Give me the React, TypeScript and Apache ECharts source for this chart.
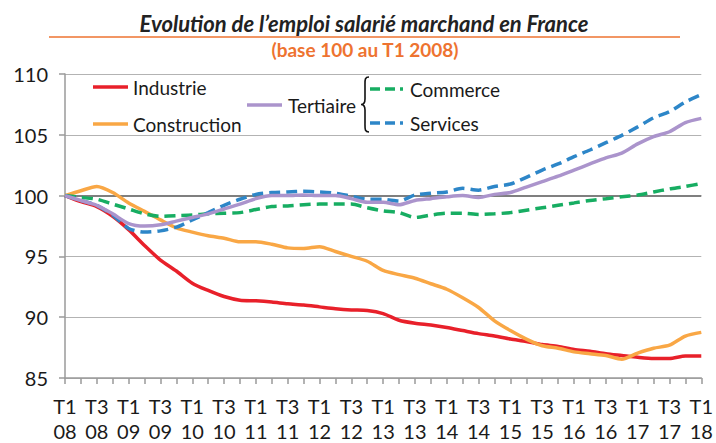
import React, { useEffect, useRef } from "react";
import * as echarts from "echarts";

const years = ["08", "09", "10", "11", "12", "13", "14", "15", "16", "17", "18"];
const quarters: string[] = [];
years.forEach((y, yi) => {
  const n = yi === years.length - 1 ? 1 : 4;
  for (let q = 1; q <= n; q++) quarters.push(`T${q} ${y}`);
});

const industrie = [
  100, 99.5, 99.1, 98.3, 97.2, 95.9, 94.7, 93.8, 92.8, 92.2,
  91.7, 91.4, 91.35, 91.25, 91.1, 91.0, 90.85, 90.7, 90.6, 90.55,
  90.3, 89.75, 89.5, 89.35, 89.15, 88.9, 88.65, 88.45, 88.2, 88.0,
  87.75, 87.6, 87.35, 87.2, 87.0, 86.85, 86.7, 86.6, 86.6, 86.8, 86.8,
];
const construction = [
  100, 100.4, 100.75, 100.25, 99.4, 98.7, 98.0, 97.35, 97.0, 96.7,
  96.5, 96.2, 96.2, 96.0, 95.7, 95.65, 95.8, 95.4, 95.0, 94.6,
  93.85, 93.5, 93.2, 92.75, 92.3, 91.6, 90.8, 89.7, 88.9, 88.2,
  87.65, 87.45, 87.15, 87.0, 86.85, 86.55, 87.05, 87.45, 87.7, 88.45, 88.75,
];
const tertiaire = [
  100, 99.6, 99.2, 98.5, 97.7, 97.5, 97.6, 97.9, 98.2, 98.5,
  98.9, 99.3, 99.75, 100.0, 100.0, 100.05, 100.0, 100.0, 99.75, 99.45,
  99.45, 99.25, 99.6, 99.75, 99.9, 100.0, 99.85, 100.1, 100.25, 100.7,
  101.15, 101.6, 102.1, 102.6, 103.1, 103.5, 104.25, 104.85, 105.25, 106.0, 106.35,
];
const commerce = [
  100, 99.85, 99.7, 99.3, 98.9, 98.5, 98.3, 98.35, 98.4, 98.5,
  98.55, 98.6, 98.85, 99.1, 99.15, 99.25, 99.3, 99.3, 99.3, 99.0,
  98.75, 98.6, 98.2, 98.4, 98.55, 98.55, 98.45, 98.5, 98.6, 98.8,
  99.0, 99.2, 99.4, 99.6, 99.75, 99.9, 100.05, 100.3, 100.55, 100.75, 101.0,
];
const services = [
  100, 99.6, 99.2, 98.4, 97.3, 97.0, 97.1, 97.4, 98.0, 98.6,
  99.2, 99.7, 100.1, 100.25, 100.3, 100.35, 100.3, 100.2, 99.95, 99.7,
  99.7, 99.55, 100.05, 100.2, 100.3, 100.6, 100.45, 100.75, 100.95, 101.5,
  102.1, 102.6, 103.2, 103.75, 104.35, 104.95, 105.65, 106.4, 106.9, 107.7, 108.3,
];

const FONT = "Lato, 'Noto Sans', sans-serif";
const C_IND = "#E8202A";
const C_CON = "#F9A745";
const C_TER = "#AB94CC";
const C_COM = "#17AD62";
const C_SER = "#2D86C8";

const braceD =
  "M369,77 C364.5,77 365,80 365,86 L365,99 C365,102.5 364,104.5 361,104.5 C364,104.5 365,106.5 365,110 L365,123 C365,129 364.5,132 369,132";

let registered = false;

export default function App() {
  const ref = useRef<HTMLDivElement>(null);
  useEffect(() => {
    if (!ref.current) return;
    if (!registered) {
      echarts.graphic.registerShape("brace", echarts.graphic.extendPath(braceD, {}) as any);
      registered = true;
    }
    const chart = echarts.init(ref.current, null, { renderer: "svg" });
    const lineSeries = (name: string, data: number[], color: string, dashed: boolean, z: number) => ({
      name,
      type: "line",
      data,
      smooth: 0.25,
      symbol: "none",
      z,
      lineStyle: { color, width: 3.5, type: dashed ? [11, 6] : "solid", cap: "butt" },
    });
    const legendText = (text: string, x: number, y: number) => ({
      type: "text",
      x,
      y,
      style: { text, fill: "#1a1a1a", font: `19px ${FONT}`, textVerticalAlign: "middle", textAlign: "left" },
    });
    const legendLine = (x1: number, x2: number, y: number, color: string, dashed: boolean) => ({
      type: "line",
      shape: { x1, y1: y, x2, y2: y },
      style: { stroke: color, lineWidth: 3.5, lineDash: dashed ? [10, 5] : null },
    });
    chart.setOption({
      animation: false,
      backgroundColor: "#ffffff",
      grid: { left: 65, right: 13, top: 74, bottom: 62, containLabel: false },
      xAxis: {
        type: "category",
        data: quarters,
        boundaryGap: false,
        axisLine: { lineStyle: { color: "#9a9a9a", width: 1.5 } },
        axisTick: { show: true, interval: 0, length: 6, lineStyle: { color: "#9a9a9a", width: 1.5 } },
        axisLabel: {
          interval: 1,
          margin: 15,
          color: "#1a1a1a",
          fontSize: 20,
          fontFamily: FONT,
          lineHeight: 25,
          formatter: (v: string) => v.replace(" ", "\n"),
        },
        splitLine: { show: false },
      },
      yAxis: {
        type: "value",
        min: 85,
        max: 110,
        interval: 5,
        axisLine: { show: true, lineStyle: { color: "#9a9a9a", width: 1.5 } },
        axisTick: { show: true, length: 6, lineStyle: { color: "#9a9a9a", width: 1.5 } },
        axisLabel: { margin: 17, color: "#1a1a1a", fontSize: 20, fontFamily: FONT },
        splitLine: { show: true, lineStyle: { color: "#b3b3b3", width: 1.2 } },
      },
      series: [
        {
          ...lineSeries("Industrie", industrie, C_IND, false, 3),
          markLine: {
            silent: true,
            symbol: "none",
            label: { show: false },
            lineStyle: { color: "#7f7f7f", width: 2.2, type: "solid" },
            data: [{ yAxis: 100 }],
            z: 1,
          },
        },
        lineSeries("Construction", construction, C_CON, false, 4),
        lineSeries("Commerce", commerce, C_COM, true, 5),
        lineSeries("Services", services, C_SER, true, 6),
        lineSeries("Tertiaire", tertiaire, C_TER, false, 7),
      ],
      graphic: [
        {
          type: "text",
          x: 364,
          y: 23,
          style: {
            text: "Evolution de l\u2019emploi salarié marchand en France",
            fill: "#222222",
            font: `italic bold 22px ${FONT}`,
            textAlign: "center",
            textVerticalAlign: "middle",
          },
        },
        {
          type: "line",
          shape: { x1: 49, y1: 37, x2: 680, y2: 37 },
          style: { stroke: "#EE7330", lineWidth: 1.5 },
        },
        {
          type: "text",
          x: 365,
          y: 49,
          style: {
            text: "(base 100 au T1 2008)",
            fill: "#EE7330",
            font: `bold 19px ${FONT}`,
            textAlign: "center",
            textVerticalAlign: "middle",
          },
        },
        legendLine(93, 128, 87, C_IND, false),
        legendText("Industrie", 133, 87),
        legendLine(93, 128, 124, C_CON, false),
        legendText("Construction", 133, 124),
        legendLine(247, 282, 105, C_TER, false),
        legendText("Tertiaire", 288, 105),
        {
          type: "brace",
          x: 0,
          y: 0,
          style: { stroke: "#111111", fill: "none", lineWidth: 1.6 },
        },
        legendLine(370, 403, 89, C_COM, true),
        legendText("Commerce", 410, 89),
        legendLine(370, 403, 123, C_SER, true),
        legendText("Services", 410, 123),
      ],
    });
    return () => chart.dispose();
  }, []);
  return (
    <div
      ref={ref}
      style={{ position: "absolute", left: 0, top: 0, width: 716, height: 443 }}
    />
  );
}
